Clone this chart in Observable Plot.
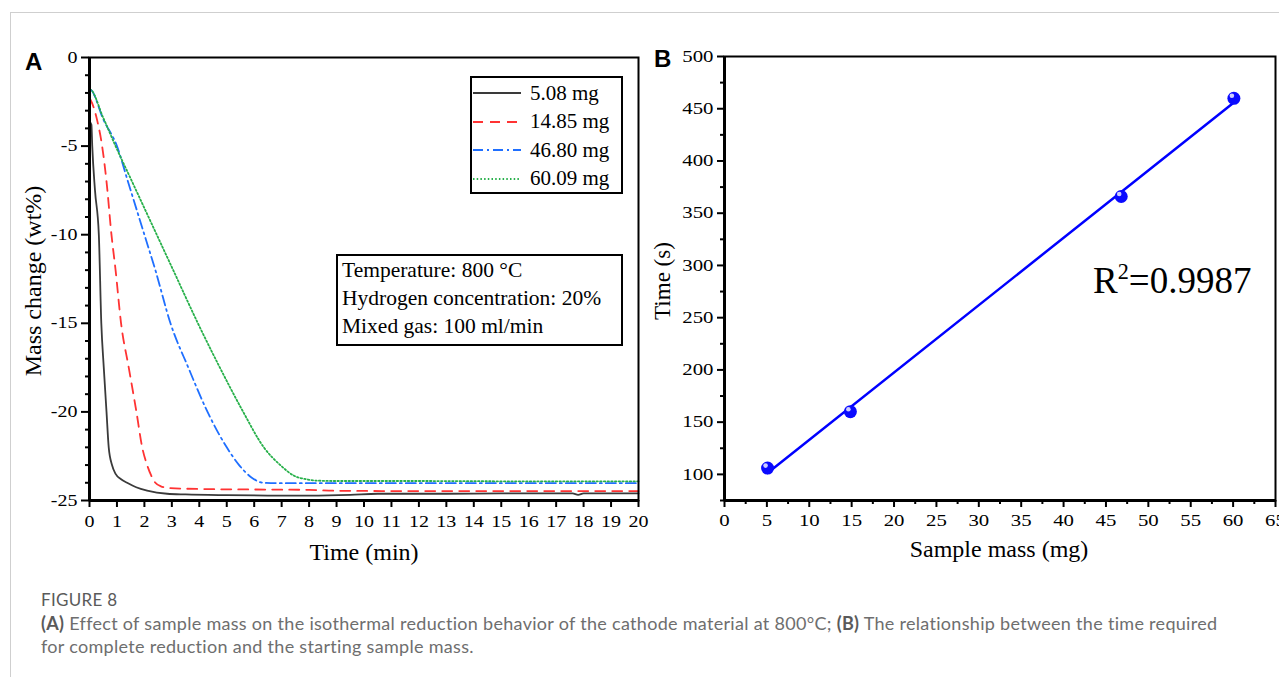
<!DOCTYPE html>
<html><head><meta charset="utf-8">
<script src="https://cdn.jsdelivr.net/npm/d3@7"></script>
<script src="https://cdn.jsdelivr.net/npm/@observablehq/plot@0.6"></script>
<style>
body{margin:0;background:#fff;}
#wrap{position:relative;width:1279px;height:677px;overflow:hidden;background:#fff;font-family:"Liberation Serif","Times New Roman",serif;color:#000;}
.abs{position:absolute;}
#card{left:10px;top:12px;width:1269px;height:665px;border-left:1px solid #cfcfcf;border-top:1px solid #cfcfcf;box-sizing:border-box;}
.plab{font-family:"Liberation Sans",Arial,sans-serif;font-weight:bold;font-size:24px;line-height:1;}
.axt{font-size:24px;line-height:1;white-space:nowrap;}
.box{border:2px solid #000;background:#fff;box-sizing:border-box;}
.leg-row{position:absolute;left:0;height:28px;display:flex;align-items:center;font-size:21px;white-space:nowrap;}
.leg-row svg{margin-right:8px;}
.cond{font-size:21.5px;line-height:28px;padding:0 0 0 4px;white-space:nowrap;}
#cap{left:41px;top:588px;font-family:Lato,"Open Sans",sans-serif;color:#6e6e6e;font-size:18px;letter-spacing:0.3px;line-height:23.5px;white-space:nowrap;}
#cap .fig{color:#5a5a5a;font-size:17px;letter-spacing:0.3px;}
#cap b{color:#5a5a5a;}
</style></head>
<body><div id="wrap">
<div id="card" class="abs"></div>
<div id="panelA" class="abs" style="left:0;top:0"></div>
<div id="panelB" class="abs" style="left:645px;top:0"></div>
<div class="abs plab" style="left:25px;top:50px">A</div>
<div class="abs plab" style="left:654px;top:47px">B</div>
<div class="abs axt" style="left:33px;top:281px;transform:translate(-50%,-50%) rotate(-90deg)">Mass change (wt%)</div>
<div class="abs axt" style="left:364px;top:552px;transform:translate(-50%,-50%)">Time (min)</div>
<div class="abs axt" style="left:662px;top:281px;transform:translate(-50%,-50%) rotate(-90deg);font-size:23px">Time (s)</div>
<div class="abs axt" style="left:999px;top:549px;transform:translate(-50%,-50%)">Sample mass (mg)</div>
<div id="legend" class="abs box" style="left:470px;top:76px;width:153px;height:118px"></div>
<div class="abs box cond" style="left:336px;top:254px;width:287px;height:92px">Temperature: 800 °C<br>Hydrogen concentration: 20%<br>Mixed gas: 100 ml/min</div>
<div class="abs" style="left:1093px;top:262px;font-size:37px;line-height:1;white-space:nowrap">R<span style="font-size:0.6em;position:relative;top:-0.62em">2</span>=0.9987</div>
<div id="cap" class="abs"><span class="fig">FIGURE 8</span><br><b>(A)</b> Effect of sample mass on the isothermal reduction behavior of the cathode material at 800°C; <b>(B)</b> The relationship between the time required<br>for complete reduction and the starting sample mass.</div>
</div>
<script>
// ---------- Panel A data: mass change (wt%) vs time (min) ----------
const seriesLabels = ["5.08 mg", "14.85 mg", "46.80 mg", "60.09 mg"];
const time508 = [0, 0.07, 0.1, 0.2, 0.34, 0.43, 0.52, 0.62, 0.7, 0.82, 0.95, 1.15, 1.37, 1.7, 2.1, 2.83, 3.5, 5, 6.5, 8, 9.5, 10.5, 13, 15, 17.6, 17.8, 18.0, 20];
const mass508 = [-3.6, -3.8, -5, -7.5, -10, -15, -17.5, -20, -22, -23, -23.5, -23.8, -24, -24.25, -24.44, -24.62, -24.66, -24.7, -24.72, -24.72, -24.68, -24.62, -24.62, -24.6, -24.6, -24.68, -24.6, -24.6];
const time1485 = [0, 0.04, 0.28, 0.46, 0.62, 0.8, 0.95, 1.15, 1.43, 1.71, 1.92, 2.1, 2.25, 2.4, 2.6, 2.95, 4, 6, 8, 9, 12, 16, 20];
const mass1485 = [-2.3, -2.4, -3.55, -5, -7, -10, -12, -15, -17.5, -20, -22, -23, -23.6, -24, -24.2, -24.3, -24.35, -24.38, -24.4, -24.45, -24.47, -24.47, -24.47];
const time4680 = [0, 0.01, 0.52, 1.0, 1.4, 2.0, 2.4, 2.95, 3.6, 4.3, 5.0, 5.45, 5.9, 6.35, 7, 9, 12, 16, 20];
const mass4680 = [-1.8, -1.8, -3.55, -5, -7, -10, -12, -15, -17.5, -20, -22, -23, -23.7, -24.0, -24.02, -24.02, -24.02, -24.02, -24.02];
const time6009 = [0, 0.01, 0.5, 0.95, 1.55, 2.45, 3.05, 3.95, 4.75, 5.6, 6.35, 6.95, 7.45, 7.9, 8.3, 9, 12, 16, 20];
const mass6009 = [-1.8, -1.8, -3.4, -5, -7, -10, -12, -15, -17.5, -20, -22, -23, -23.6, -23.8, -23.88, -23.9, -23.9, -23.92, -23.92];
const timeTicksA = [0,1,2,3,4,5,6,7,8,9,10,11,12,13,14,15,16,17,18,19,20];
const massTicksA = [0,-5,-10,-15,-20,-25];
const massMinorA = [-1,-2,-3,-4,-6,-7,-8,-9,-11,-12,-13,-14,-16,-17,-18,-19,-21,-22,-23,-24];

// ---------- Panel B data: reduction time (s) vs sample mass (mg) ----------
const sampleMass = [5.08, 14.85, 46.80, 60.09];
const reductionTime = [106, 160, 366, 460];
const massTicksB = [0,5,10,15,20,25,30,35,40,45,50,55,60,65];
const massMinorB = [2.5,7.5,12.5,17.5,22.5,27.5,32.5,37.5,42.5,47.5,52.5,57.5,62.5];
const timeTicksB = [100,150,200,250,300,350,400,450,500];
const timeMinorB = [75,125,175,225,275,325,375,425,475];

// ---------- styles ----------
const SERIF = "'Liberation Serif','Times New Roman',serif";
const seriesStyles = [
  {stroke: "#3a3a3a", dash: null, width: 1.8},
  {stroke: "#ff3333", dash: "10,7", width: 1.8},
  {stroke: "#1f6fff", dash: "10,4,2,4", width: 1.8},
  {stroke: "#27b04a", dash: "1.5,2.2", width: 1.8}
];
const seriesData = [[time508, mass508], [time1485, mass1485], [time4680, mass4680], [time6009, mass6009]];
const rowsA = seriesData.map(([ts, ms], i) => ts.map((t, j) => ({t, m: ms[j], s: seriesLabels[i]})));

function stretchTicks(svg, s) {
  svg.querySelectorAll('g[aria-label$="tick label"] text').forEach(t => {
    const tr = t.getAttribute("transform");
    if (tr) t.setAttribute("transform", tr + ` scale(${s},1)`);
    else {
      const x = +t.getAttribute("x") || 0, y = +t.getAttribute("y") || 0;
      t.removeAttribute("x"); t.removeAttribute("y");
      t.setAttribute("transform", `translate(${x},${y}) scale(${s},1)`);
    }
  });
}

const baseStyle = {fontFamily: SERIF, fontSize: "16px", color: "#000", background: "transparent", overflow: "visible"};

const plotA = Plot.plot({
  width: 650, height: 570,
  marginLeft: 89, marginRight: 12, marginTop: 57, marginBottom: 70,
  x: {domain: [timeTicksA[0], timeTicksA[timeTicksA.length - 1]]},
  y: {domain: [massTicksA[massTicksA.length - 1], massTicksA[0]]},
  style: baseStyle,
  marks: [
    ...rowsA.map((rows, i) => Plot.line(rows, {
      x: "t", y: "m", stroke: seriesStyles[i].stroke, strokeWidth: seriesStyles[i].width,
      strokeDasharray: seriesStyles[i].dash, curve: "monotone-x"
    })),
    Plot.axisX({ticks: timeTicksA, tickSize: 7, tickPadding: 8, strokeWidth: 2, tickFormat: d => String(d), label: null}),
    Plot.axisY({ticks: massTicksA, tickSize: 8, tickPadding: 4, strokeWidth: 2, tickFormat: d => String(d), label: null}),
    Plot.axisY({ticks: massMinorA, tickSize: 4, strokeWidth: 2, tickFormat: () => "", label: null}),
    Plot.frame({strokeWidth: 2}),
    Plot.ruleX([timeTicksA[0]], {strokeWidth: 3}),
    Plot.ruleY([massTicksA[massTicksA.length - 1]], {strokeWidth: 3})
  ]
});
stretchTicks(plotA, 1.25);
document.getElementById("panelA").appendChild(plotA);

const ptsB = sampleMass.map((m, i) => ({m, t: reductionTime[i]}));
const plotB = Plot.plot({
  width: 634, height: 570,
  marginLeft: 79, marginRight: 4, marginTop: 56, marginBottom: 70,
  x: {domain: [massTicksB[0], massTicksB[massTicksB.length - 1]]},
  y: {domain: [timeMinorB[0], timeTicksB[timeTicksB.length - 1]]},
  style: baseStyle,
  marks: [
    Plot.linearRegressionY(ptsB, {x: "m", y: "t", stroke: "#0000ff", strokeWidth: 2.5, ci: 0}),
    Plot.dot(ptsB, {x: "m", y: "t", r: 6.5, fill: "#0a0aff"}),
    Plot.dot(ptsB, {x: "m", y: "t", r: 2.3, fill: "#ffffff", fillOpacity: 0.8, dx: -2, dy: -2.5}),
    Plot.axisX({ticks: massTicksB, tickSize: 7, tickPadding: 7, strokeWidth: 2, tickFormat: d => String(d), label: null}),
    Plot.axisX({ticks: massMinorB, tickSize: 4, strokeWidth: 2, tickFormat: () => "", label: null}),
    Plot.axisY({ticks: timeTicksB, tickSize: 7, tickPadding: 4, strokeWidth: 2, tickFormat: d => String(d), label: null}),
    Plot.axisY({ticks: timeMinorB, tickSize: 4, strokeWidth: 2, tickFormat: () => "", label: null}),
    Plot.frame({strokeWidth: 2}),
    Plot.ruleX([massTicksB[0]], {strokeWidth: 3}),
    Plot.ruleY([timeMinorB[0]], {strokeWidth: 3})
  ]
});
stretchTicks(plotB, 1.3);
document.getElementById("panelB").appendChild(plotB);

// ---------- legend for panel A ----------
const legend = document.getElementById("legend");
seriesLabels.forEach((lab, i) => {
  const row = document.createElement("div");
  row.className = "leg-row";
  row.style.top = (1 + i * 28.5) + "px";
  const st = seriesStyles[i];
  row.innerHTML = `<svg width="50" height="10"><line x1="1" y1="5" x2="49" y2="5" stroke="${st.stroke}" stroke-width="${st.width}" ${st.dash ? `stroke-dasharray="${st.dash}"` : ""}/></svg><span>${lab}</span>`;
  legend.appendChild(row);
});
</script>
</body></html>
